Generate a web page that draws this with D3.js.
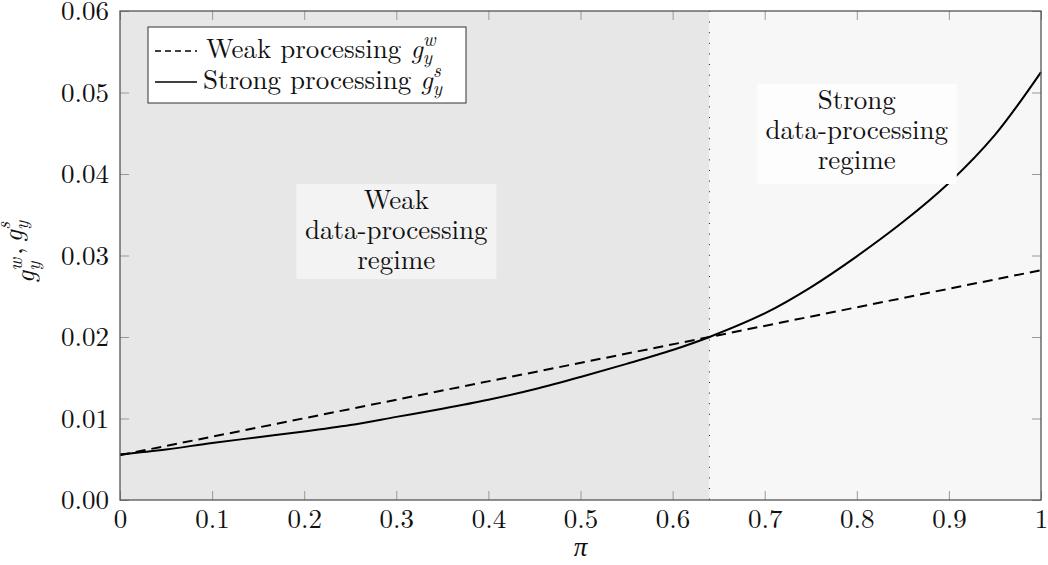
<!DOCTYPE html>
<html>
<head>
<meta charset="utf-8">
<script src="https://cdn.jsdelivr.net/npm/d3@7"></script>
<style>
  body { margin: 0; background: #fff; }
</style>
</head>
<body>
<svg id="chart" width="1048" height="565"></svg>
<script>
// data
const piValues   = [0, 0.05, 0.1, 0.15, 0.2, 0.25, 0.3, 0.35, 0.4, 0.45, 0.5, 0.55, 0.6, 0.64, 0.7, 0.75, 0.8, 0.85, 0.9, 0.95, 1.0];
const strongVals = [0.0056, 0.0062, 0.0070, 0.0077, 0.0084, 0.0092, 0.0102, 0.0112, 0.0123, 0.0136, 0.0151, 0.0167, 0.0184, 0.0200, 0.0229, 0.0261, 0.0299, 0.0341, 0.0389, 0.0448, 0.0525];
const weakPi     = [0, 0.64, 1];
const weakVals   = [0.0055, 0.0200, 0.0282];
const threshold  = 0.64;
const xTicks = [0, 0.1, 0.2, 0.3, 0.4, 0.5, 0.6, 0.7, 0.8, 0.9, 1];
const yTicks = [0, 0.01, 0.02, 0.03, 0.04, 0.05, 0.06];

const FONT = '"Latin Modern Roman", "Liberation Serif", serif';
const FS = 27;

const margin = {top: 11, right: 7, bottom: 65, left: 120};
const W = 1048, H = 565;
const width = W - margin.left - margin.right;
const height = H - margin.top - margin.bottom;

const svg = d3.select("#chart").style("font-family", FONT);
const g = svg.append("g").attr("transform", `translate(${margin.left},${margin.top})`);

const x = d3.scaleLinear().domain([0, 1]).range([0, width]);
const y = d3.scaleLinear().domain([0, 0.06]).range([height, 0]);

function txt(sel) {
  return sel.append("text").style("font-family", FONT).style("font-size", FS + "px").attr("fill", "#111");
}
// math-style g with sub/superscript
function gSym(t, sup, dx) {
  t.append("tspan").attr("dx", dx || 0).style("font-style", "italic").text("g");
  t.append("tspan").style("font-style", "italic").style("font-size", "19px").attr("dy", 6).text("y");
  t.append("tspan").style("font-style", "italic").style("font-size", "19px").attr("dx", -9).attr("dy", -18).text(sup);
  t.append("tspan").attr("dy", 12).text("");
}

// regime backgrounds
g.append("rect").attr("x", x(0)).attr("y", 0)
  .attr("width", x(threshold) - x(0)).attr("height", height).attr("fill", "#e7e7e7");
g.append("rect").attr("x", x(threshold)).attr("y", 0)
  .attr("width", x(1) - x(threshold)).attr("height", height).attr("fill", "#f7f7f7");

// threshold line
g.append("line")
  .attr("x1", x(threshold)).attr("x2", x(threshold))
  .attr("y1", 0).attr("y2", height)
  .attr("stroke", "#222").attr("stroke-width", 1)
  .attr("stroke-dasharray", "1,9.6");

// lines
const line = d3.line().x(d => x(d[0])).y(d => y(d[1]));
const strongData = piValues.map((p, i) => [p, strongVals[i]]);
const weakData = weakPi.map((p, i) => [p, weakVals[i]]);

g.append("path").datum(weakData)
  .attr("d", line)
  .attr("fill", "none").attr("stroke", "#000").attr("stroke-width", 2)
  .attr("stroke-dasharray", "10,6");
g.append("path").datum(strongData)
  .attr("d", line.curve(d3.curveCatmullRom.alpha(0.5)))
  .attr("fill", "none").attr("stroke", "#000").attr("stroke-width", 2);

// regime labels
function regimeLabel(cx, top, w, h, fill, lines) {
  g.append("rect").attr("x", cx - w / 2).attr("y", top)
    .attr("width", w).attr("height", h).attr("fill", fill);
  const t = txt(g).attr("text-anchor", "middle");
  lines.forEach((s, i) => {
    t.append("tspan").attr("x", cx).attr("y", top + 25 + i * 30).text(s);
  });
}
regimeLabel(x(0.3), 173, 200, 95, "#f3f3f3", ["Weak", "data-processing", "regime"]);
regimeLabel(x(0.8), 73, 200, 100, "#fdfdfd", ["Strong", "data-processing", "regime"]);

// axes: ticks inside, mirrored
const fmtX = d => (d === 0 || d === 1) ? String(d) : d.toFixed(1);
const tickColor = "#999";
const tl = 9;

const xb = g.append("g").attr("transform", `translate(0,${height})`)
  .call(d3.axisBottom(x).tickValues(xTicks).tickFormat(fmtX).tickSize(-tl).tickPadding(9));
const xt = g.append("g")
  .call(d3.axisTop(x).tickValues(xTicks).tickFormat("").tickSize(-tl));
const yl = g.append("g")
  .call(d3.axisLeft(y).tickValues(yTicks).tickFormat(d3.format(".2f")).tickSize(-tl).tickPadding(11));
const yr = g.append("g").attr("transform", `translate(${width},0)`)
  .call(d3.axisRight(y).tickValues(yTicks).tickFormat("").tickSize(-tl));

[xb, xt, yl, yr].forEach(a => {
  a.attr("font-family", null).attr("font-size", null);
  a.select(".domain").remove();
  a.selectAll(".tick line").attr("stroke", tickColor).attr("stroke-width", 1);
  a.selectAll(".tick text").style("font-family", FONT)
    .style("font-size", FS + "px").attr("fill", "#111");
});

// frame
g.append("rect").attr("width", width).attr("height", height)
  .attr("fill", "none").attr("stroke", "#555").attr("stroke-width", 1.3);

// legend
const leg = g.append("g").attr("transform", "translate(28,16)");
leg.append("rect").attr("width", 318).attr("height", 76)
  .attr("fill", "#fff").attr("stroke", "#333").attr("stroke-width", 1);
const legItems = [
  {name: "Weak processing ", sup: "w", dash: "6,4", y: 24, tx: 58},
  {name: "Strong processing ", sup: "s", dash: null, y: 55, tx: 55}
];
legItems.forEach(it => {
  leg.append("line").attr("x1", 7).attr("x2", 49).attr("y1", it.y).attr("y2", it.y)
    .attr("stroke", "#000").attr("stroke-width", 1.6)
    .attr("stroke-dasharray", it.dash);
  const t = txt(leg).attr("x", it.tx).attr("y", it.y + 7);
  t.append("tspan").text(it.name);
  gSym(t, it.sup);
});

// axis titles
txt(svg).attr("x", margin.left + x(0.5)).attr("y", 556)
  .attr("text-anchor", "middle").style("font-style", "italic").text("π");

const yt = txt(svg).attr("transform", "translate(34,252) rotate(-90)")
  .attr("text-anchor", "middle");
gSym(yt, "w");
yt.append("tspan").attr("dx", 3).text(",");
gSym(yt, "s", 5);
</script>
</body>
</html>
